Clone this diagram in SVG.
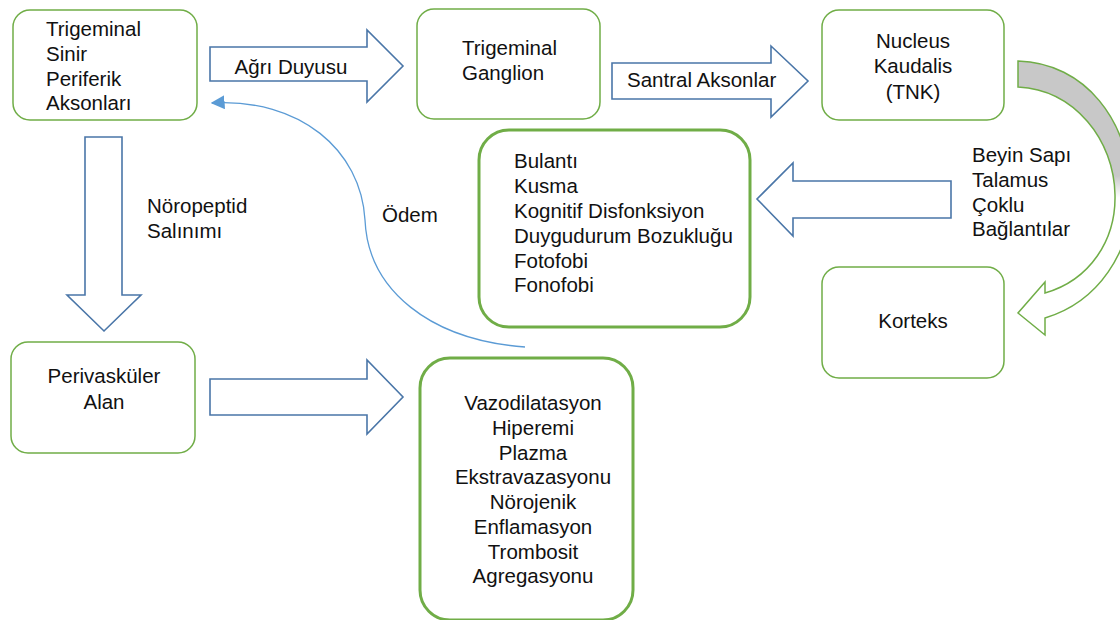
<svg xmlns="http://www.w3.org/2000/svg" width="1120" height="620" viewBox="0 0 1120 620">
  <style>
    text { font-family: "Liberation Sans", Arial, sans-serif; font-size: 20.5px; fill: #111; }
    .mid { text-anchor: middle; }
    .box { fill: #fff; stroke: #70ad47; stroke-width: 1.5; }
    .box-bold { fill: #fff; stroke: #70ad47; stroke-width: 3; }
    .block { fill: #fff; stroke: #4a76a8; stroke-width: 1.6; stroke-linejoin: miter; }
    .curve { fill: none; stroke: #5b9bd5; stroke-width: 1.3; }
    .bend { fill: url(#bendFill); stroke: #70ad47; stroke-width: 1.5; stroke-linejoin: miter; }
  </style>
  <defs>
    <marker id="blueHead" viewBox="0 0 10 10" refX="9" refY="5" markerWidth="14" markerHeight="14" markerUnits="userSpaceOnUse" orient="auto">
      <path d="M0,0 L10,5 L0,10 Z" fill="#5b9bd5"/>
    </marker>
    <linearGradient id="bendFill" gradientUnits="userSpaceOnUse" x1="0" y1="61" x2="0" y2="335">
      <stop offset="0" stop-color="#c8c8c8"/>
      <stop offset="0.42" stop-color="#c8c8c8"/>
      <stop offset="0.5" stop-color="#ffffff"/>
      <stop offset="1" stop-color="#ffffff"/>
    </linearGradient>
  </defs>

  <rect width="1120" height="620" fill="#fff"/>

  <!-- connectors -->
  <g id="connectors">
    <!-- Ağrı Duyusu -->
    <path class="block" d="M210,47 L367,47 L367,30 L403,66 L367,102 L367,81 L210,81 Z"/>
    <!-- Santral Aksonlar -->
    <path class="block" d="M612,63 L771,63 L771,46 L808,81 L771,117 L771,99 L612,99 Z"/>
    <!-- Nöropeptid Salınımı -->
    <path class="block" d="M85,137 L122,137 L122,295 L141,295 L104,331 L67,295 L85,295 Z"/>
    <!-- Perivasküler alan to vazodilatasyon -->
    <path class="block" d="M210,379 L367,379 L367,360 L403,397 L367,434 L367,415 L210,415 Z"/>
    <!-- Beyin sapı / talamus to symptoms -->
    <path class="block" d="M951,181 L793,181 L793,163 L757,199 L793,236 L793,218 L951,218 Z"/>
    <!-- Nucleus kaudalis to korteks -->
    <path class="bend" d="M1018,61 L1018,87 C1075,90 1114,140 1115,195 C1116,240 1090,280 1045,293 L1045,282 L1018,313 L1045,335 L1045,318 C1098,302 1132,252 1131,195 C1130,120 1085,63 1018,61 Z"/>
    <!-- Ödem -->
    <path class="curve" marker-end="url(#blueHead)" d="M525,347 C430,340 368,290 365,220 C361,150 300,98 212,103"/>
  </g>

  <!-- connector labels -->
  <g id="labels">
    <text x="291" y="74" class="mid">Ağrı Duyusu</text>
    <text x="627" y="87">Santral Aksonlar</text>
    <text x="147" y="213">Nöropeptid</text>
    <text x="147" y="238">Salınımı</text>
    <text x="382" y="222">Ödem</text>
    <text x="972" y="162">Beyin Sapı</text>
    <text x="972" y="187">Talamus</text>
    <text x="972" y="212">Çoklu</text>
    <text x="972" y="236">Bağlantılar</text>
  </g>

  <g id="node-periferik">
    <rect class="box" x="13" y="10" width="184" height="110" rx="17"/>
    <text x="46" y="36">Trigeminal</text>
    <text x="46" y="61">Sinir</text>
    <text x="46" y="86">Periferik</text>
    <text x="46" y="110">Aksonları</text>
  </g>

  <g id="node-ganglion">
    <rect class="box" x="417" y="9" width="183" height="110" rx="17"/>
    <text x="462" y="55">Trigeminal</text>
    <text x="462" y="80">Ganglion</text>
  </g>

  <g id="node-tnk">
    <rect class="box" x="822" y="10" width="182" height="110" rx="17"/>
    <text x="913" y="48" class="mid">Nucleus</text>
    <text x="913" y="73" class="mid">Kaudalis</text>
    <text x="913" y="99" class="mid">(TNK)</text>
  </g>

  <g id="node-semptom">
    <rect class="box-bold" x="479" y="130" width="271" height="197" rx="30"/>
    <text x="514" y="168">Bulantı</text>
    <text x="514" y="193">Kusma</text>
    <text x="514" y="218">Kognitif Disfonksiyon</text>
    <text x="514" y="243">Duygudurum Bozukluğu</text>
    <text x="514" y="268">Fotofobi</text>
    <text x="514" y="292">Fonofobi</text>
  </g>

  <g id="node-korteks">
    <rect class="box" x="822" y="267" width="182" height="111" rx="17"/>
    <text x="913" y="328" class="mid">Korteks</text>
  </g>

  <g id="node-perivaskuler">
    <rect class="box" x="11" y="342" width="184" height="111" rx="17"/>
    <text x="104" y="383" class="mid">Perivasküler</text>
    <text x="104" y="409" class="mid">Alan</text>
  </g>

  <g id="node-vazodilatasyon">
    <rect class="box-bold" x="420" y="358" width="213" height="262" rx="30"/>
    <text x="533" y="410" class="mid">Vazodilatasyon</text>
    <text x="533" y="435" class="mid">Hiperemi</text>
    <text x="533" y="460" class="mid">Plazma</text>
    <text x="533" y="484" class="mid">Ekstravazasyonu</text>
    <text x="533" y="509" class="mid">Nörojenik</text>
    <text x="533" y="534" class="mid">Enflamasyon</text>
    <text x="533" y="559" class="mid">Trombosit</text>
    <text x="533" y="583" class="mid">Agregasyonu</text>
  </g>
</svg>
